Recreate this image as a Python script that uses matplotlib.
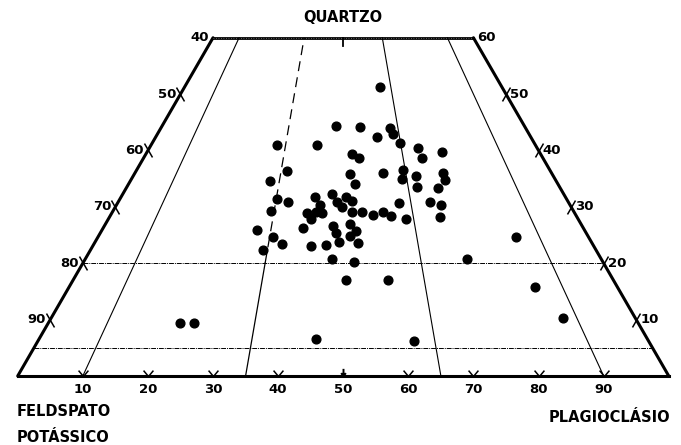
import numpy as np
import matplotlib.pyplot as plt
from matplotlib.path import Path

# QAP points: Q (quartz %) and P (plagioclase %), A = 100 - Q - P
q_vals = [51.3, 44.3, 44.2, 44.0, 42.9, 42.4, 41.3, 41.0, 41.0, 40.4,
          39.7, 39.4, 38.7, 38.7, 36.4, 35.8, 36.0, 36.5, 36.0, 34.6,
          34.1, 34.9, 35.5, 34.8, 33.5, 33.4, 32.3, 31.8, 31.8, 31.4,
          30.9, 30.3, 30.9, 30.0, 31.0, 30.7, 30.9, 30.3, 29.3, 28.9,
          29.1, 28.9, 29.1, 29.1, 28.6, 29.1, 28.4, 27.9, 28.2, 27.9,
          26.3, 25.9, 26.6, 27.0, 25.4, 25.7, 24.8, 24.7, 23.8, 23.6,
          23.4, 23.1, 23.2, 22.4, 20.8, 20.2, 17.0, 17.0, 24.7, 20.8,
          15.8, 10.3, 9.4, 9.4, 6.6, 6.2]
p_vals = [30.0, 26.7, 30.4, 35.2, 36.2, 34.0, 38.1, 19.3, 25.5, 41.3,
          45.3, 31.7, 33.1, 42.8, 23.2, 33.1, 38.1, 40.9, 47.3, 21.5,
          34.8, 41.6, 43.4, 48.3, 44.6, 47.9, 32.1, 34.6, 29.8, 24.1,
          26.1, 31.3, 33.6, 34.8, 35.8, 43.2, 47.9, 49.9, 24.3, 30.0,
          31.3, 32.3, 36.8, 38.3, 40.3, 41.6, 43.2, 45.7, 50.8, 31.1,
          30.7, 23.8, 35.1, 37.6, 36.2, 39.1, 38.6, 26.9, 37.5, 40.5,
          28.9, 33.5, 35.7, 26.5, 37.9, 41.5, 41.9, 48.4, 64.2, 58.6,
          71.6, 78.6, 20.2, 22.4, 42.5, 57.8]

q_top = 60
field_ratios = [10, 35, 65, 90]        # P/(A+P) boundaries
q_levels = [20, 5]
base_ticks = [10, 20, 30, 40, 50, 60, 70, 80, 90]
side_ticks = [50, 40, 30, 20, 10]
H = np.sqrt(3) / 2


def xy(p, q):
    p = np.asarray(p, float)
    q = np.asarray(q, float)
    return p + q / 2, q * H


def ratio_point(r, q):
    # point with P/(A+P) = r % at quartz level q
    return xy((100 - q) * r / 100, q)


fig = plt.figure(figsize=(6.81, 4.45), dpi=100)
ax = fig.add_axes([0, 0, 1, 1])
ax.set_xlim(-2.72, 101.88)
ax.set_ylim(-10.6, 57.76)
ax.axis('off')

font = dict(family=['Liberation Sans Narrow', 'DejaVu Sans'], fontweight='bold')

# outer frame
corners = [xy(0, 0), xy(0, q_top), xy(100 - q_top, q_top), xy(100, 0), xy(0, 0)]
cx = [c[0] for c in corners]
cy = [c[1] for c in corners]
ax.plot(cx[:2], cy[:2], color='black', lw=2.2, solid_capstyle='round')
ax.plot(cx[2:4], cy[2:4], color='black', lw=2.2, solid_capstyle='round')
ax.plot([cx[3], cx[4]], [cy[3], cy[4]], color='black', lw=2.2)
ax.plot(cx[1:3], cy[1:3], color='black', lw=2.0)
ax.plot(cx[1:3], cy[1:3], color='white', lw=0.6, ls=(0, (1, 2)), alpha=0.5)

# horizontal quartz levels
for q in q_levels:
    x0, y0 = xy(0, q)
    x1, y1 = xy(100 - q, q)
    ax.plot([x0, x1], [y0, y1], color='black', lw=0.7, ls=(0, (5, 1, 1, 1)))

# field boundaries radiating from Q
for r in field_ratios:
    xb, yb = ratio_point(r, 0)
    xt, yt = ratio_point(r, q_top)
    if r == 35:
        xm, ym = ratio_point(r, 20)
        ax.plot([xb, xm], [yb, ym], color='black', lw=0.9)
        ax.plot([xm, xt], [ym, yt], color='black', lw=0.9, ls=(0, (8, 5)))
    else:
        ax.plot([xb, xt], [yb, yt], color='black', lw=0.8)

# ticks on the base
vmark = Path([(-1, 1.2), (0, 0), (1, 1.2)], [Path.MOVETO, Path.LINETO, Path.LINETO])
amark = Path([(0, 2.0), (0, 0), (-0.6, 0.9), (0, 0), (0.6, 0.9)],
             [Path.MOVETO, Path.LINETO, Path.MOVETO, Path.LINETO, Path.LINETO])
for t in base_ticks:
    if t == 50:
        ax.plot(t, 0, marker=amark, ms=11, mfc='none', mec='black', mew=1.4)
    else:
        ax.plot(t, 0, marker=vmark, ms=8.5, mfc='none', mec='black', mew=1.1)
    ax.text(t, -2.15, str(t), ha='center', va='center', fontsize=9.5, **font)

# top marker at P/(A+P) = 50
xt, yt = ratio_point(50, q_top)
ax.plot([xt, xt], [yt, yt - 1.3], color='black', lw=1.3)

# ticks on the side edges
lmark = Path([(-0.5, -H), (0.5, H)], [Path.MOVETO, Path.LINETO])
rmark = Path([(0.5, -H), (-0.5, H)], [Path.MOVETO, Path.LINETO])
for q in side_ticks:
    xl, yl = xy(0, q)
    xr, yr = xy(100 - q, q)
    ax.plot(xl, yl, marker=rmark, ms=10, mec='black', mew=1.1)
    ax.plot(xr, yr, marker=lmark, ms=10, mec='black', mew=1.1)
    ax.annotate(str(100 - q), (xl, yl), xytext=(-3, 0), textcoords='offset points',
                ha='right', va='center', fontsize=9.5, **font)
    ax.annotate(str(q), (xr, yr), xytext=(3, 0), textcoords='offset points',
                ha='left', va='center', fontsize=9.5, **font)

ax.annotate(str(100 - q_top), (cx[1], cy[1]), xytext=(-3, 0), textcoords='offset points',
            ha='right', va='center', fontsize=9.5, **font)
ax.annotate(str(q_top), (cx[2], cy[2]), xytext=(3, 0), textcoords='offset points',
            ha='left', va='center', fontsize=9.5, **font)

# data
px, py = xy(p_vals, q_vals)
ax.plot(px, py, 'o', color='black', ms=6.3, ls='none')

# vertex names
ax.text(50, 55.0, 'QUARTZO', ha='center', va='center', fontsize=10.5, **font)
ax.text(-0.1, -5.4, 'FELDSPATO', ha='left', va='center', fontsize=10.5, **font)
ax.text(-0.1, -9.4, 'POTÁSSICO', ha='left', va='center', fontsize=10.5, **font)
ax.text(100.2, -6.3, 'PLAGIOCLÁSIO', ha='right', va='center', fontsize=10.5, **font)

fig.savefig('out.png', dpi=100)
